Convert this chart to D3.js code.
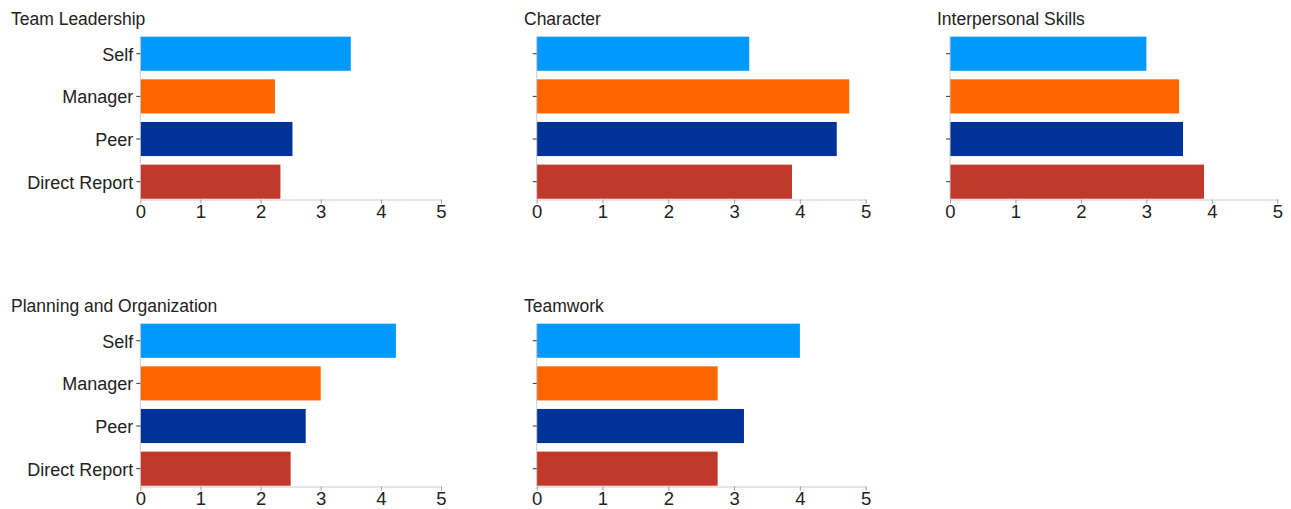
<!DOCTYPE html>
<html>
<head>
<meta charset="utf-8">
<script src="https://cdn.jsdelivr.net/npm/d3@7/dist/d3.min.js"></script>
<style>
  html, body { margin: 0; padding: 0; background: #fff; }
  svg { display: block; font-family: "Liberation Sans", Arial, sans-serif; }
</style>
</head>
<body>
<svg id="chart" width="1291" height="509"></svg>
<script>
// Rater groups, one bar each per competency
const categories = ["Self", "Manager", "Peer", "Direct Report"];
const competencies = ["Team Leadership", "Character", "Interpersonal Skills", "Planning and Organization", "Teamwork"];

// Average scores per rater group, in competency order
const selfScores = [3.5, 3.23, 3.0, 4.25, 4.0];
const managerScores = [2.24, 4.75, 3.5, 3.0, 2.75];
const peerScores = [2.53, 4.56, 3.56, 2.75, 3.15];
const directReportScores = [2.33, 3.88, 3.88, 2.5, 2.75];

const xTicks = [0, 1, 2, 3, 4, 5];
const colors = ["#0099ff", "#ff6600", "#003399", "#c0392b"];

const scoreSeries = [selfScores, managerScores, peerScores, directReportScores];

// Grid of small multiples: 3 columns, 2 rows
const columns = [
  { titleX: 11, x0: 140.3, x1: 441, labels: true },
  { titleX: 524, x0: 536.7, x1: 865.7, labels: false },
  { titleX: 937, x0: 950, x1: 1277.3, labels: false }
];
const rowOffsets = [0, 287];

const svg = d3.select("#chart");

competencies.forEach((name, i) => {
  const col = columns[i % 3];
  const dy = rowOffsets[Math.floor(i / 3)];
  const g = svg.append("g").attr("transform", `translate(0,${dy})`);

  const x = d3.scaleLinear().domain([0, 5]).range([col.x0, col.x1]);
  const y = d3.scaleBand().domain(categories).range([32.4, 203])
    .paddingInner(0.2).paddingOuter(0.1);
  const axisY = 199.5;

  const rows = categories.map((c, k) => ({ cat: c, value: scoreSeries[k][i], color: colors[k] }));

  // title
  g.append("text")
    .attr("x", col.titleX).attr("y", 25)
    .attr("font-size", "17.5px").attr("fill", "#222")
    .text(name);

  // bars
  g.selectAll("rect.bar").data(rows).join("rect")
    .attr("class", "bar")
    .attr("x", x(0))
    .attr("y", d => y(d.cat))
    .attr("width", d => x(d.value) - x(0))
    .attr("height", y.bandwidth())
    .attr("fill", d => d.color);

  // vertical baseline
  g.append("line")
    .attr("x1", x(0)).attr("x2", x(0))
    .attr("y1", y(categories[0])).attr("y2", axisY)
    .attr("stroke", "#ccc").attr("stroke-width", 1);

  // category axis
  const yAxis = d3.axisLeft(y).tickSize(4).tickPadding(3).tickSizeOuter(0);
  if (!col.labels) yAxis.tickFormat("");
  const yg = g.append("g").attr("transform", `translate(${x(0)},0)`).call(yAxis);
  yg.select(".domain").remove();
  yg.selectAll(".tick line").attr("stroke", "#333");
  yg.selectAll(".tick text").attr("font-size", "18px").attr("fill", "#222")
    .attr("dy", "0.38em")
    .attr("font-family", "Liberation Sans, Arial, sans-serif");

  // score axis
  const xAxis = d3.axisBottom(x).tickValues(xTicks).tickFormat(d3.format("d"))
    .tickSize(4).tickPadding(1.5).tickSizeOuter(0);
  const xg = g.append("g").attr("transform", `translate(0,${axisY})`).call(xAxis);
  xg.select(".domain").attr("stroke", "#ccc");
  xg.selectAll(".tick line").attr("stroke", "#999");
  xg.selectAll(".tick text").attr("font-size", "18.5px").attr("fill", "#222")
    .attr("font-family", "Liberation Sans, Arial, sans-serif");
});
</script>
</body>
</html>
